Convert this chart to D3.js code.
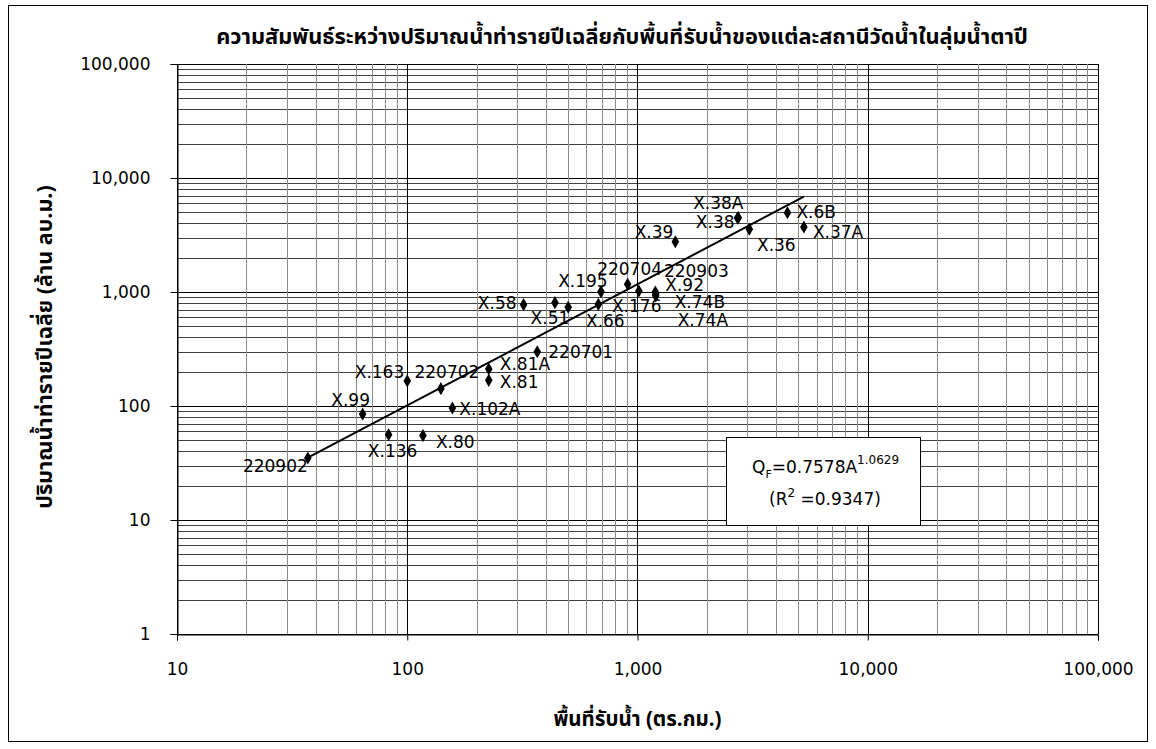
<!DOCTYPE html>
<html>
<head>
<meta charset="utf-8">
<script src="https://cdn.jsdelivr.net/npm/d3@7"></script>
<style>
  body { margin: 0; background: #fff; }
  svg text { font-family: "DejaVu Sans", Tahoma, sans-serif; fill: #000; }
  .thai { font-family: Tahoma, "Noto Sans Thai", "Noto Sans Thai UI", "Loma", "Garuda", "Norasi", "DejaVu Sans", sans-serif; }
</style>
</head>
<body>
<svg id="chart"></svg>
<script>
// station names, catchment area (sq.km) and mean annual runoff (MCM)
const stations = ["220902", "X.99", "X.136", "X.163", "220702", "X.80", "X.102A", "X.81A", "X.81",
  "220701", "X.58", "X.51", "X.195", "X.176", "X.66", "220704", "220903", "X.92", "X.74B", "X.74A",
  "X.39", "X.38A", "X.38", "X.36", "X.6B", "X.37A"];
const areas = [37, 64, 83, 100, 140, 117, 157, 226, 226,
  367, 320, 438, 500, 694, 676, 906, 1014, 1195, 1200, 1200,
  1460, 2740, 2720, 3060, 4480, 5280];
const flows = [35, 85, 56, 166, 142, 55, 96, 211, 168,
  299, 774, 806, 735, 1007, 780, 1170, 1020, 1000, 960, 925,
  2760, 4490, 4450, 3550, 4960, 3720];

const xTicks = [10, 100, 1000, 10000, 100000];
const yTicks = [1, 10, 100, 1000, 10000, 100000];

// power trendline shown in the chart
const trendA = 0.7578, trendB = 1.0629, trendR2 = 0.9347;

const titleText = "ความสัมพันธ์ระหว่างปริมาณน้ำท่ารายปีเฉลี่ยกับพื้นที่รับน้ำของแต่ละสถานีวัดน้ำในลุ่มน้ำตาปี";
const xTitle = "พื้นที่รับน้ำ (ตร.กม.)";
const yTitle = "ปริมาณน้ำท่ารายปีเฉลี่ย (ล้าน ลบ.ม.)";

// label placement: [anchor, dx, dy] in px from the marker
const labelPos = {
  "220902": ["end", 0, 8], "X.99": ["middle", -12, -14], "X.136": ["middle", 4, 16],
  "X.163": ["end", -3, -9], "220702": ["middle", 6, -17], "X.80": ["start", 13, 6],
  "X.102A": ["start", 7, 1], "X.81A": ["start", 11, -5], "X.81": ["start", 11, 2],
  "220701": ["start", 11, 0], "X.58": ["end", -7, -2], "X.51": ["middle", -5, 15],
  "X.195": ["start", -10, -26], "X.176": ["start", 11, 14], "X.66": ["middle", 7, 17],
  "220704": ["middle", 2, -15], "220903": ["start", 25, -20], "X.92": ["start", 10, -7],
  "X.74B": ["start", 19, 8], "X.74A": ["start", 22, 24], "X.39": ["end", -2, -10],
  "X.38A": ["middle", -20, -15], "X.38": ["end", -3, 4], "X.36": ["middle", 27, 16],
  "X.6B": ["start", 9, -1], "X.37A": ["start", 9, 5]
};

const svgWidth = 1156, svgHeight = 749;
const plot = { left: 177, right: 1098, top: 64, bottom: 634 };

const svg = d3.select("#chart")
  .attr("width", svgWidth)
  .attr("height", svgHeight);

// outer chart frame
svg.append("rect")
  .attr("x", 8.5).attr("y", 5.5)
  .attr("width", 1139).attr("height", 736)
  .attr("fill", "#fff")
  .attr("stroke", "#000")
  .attr("stroke-width", 1);

const x = d3.scaleLog().domain([10, 100000]).range([plot.left, plot.right]);
const y = d3.scaleLog().domain([1, 100000]).range([plot.bottom, plot.top]);

// log grid: 1..9 per decade
function gridValues(lo, hi) {
  const vals = [];
  for (let d = lo; d < hi; d *= 10) {
    for (let m = 1; m < 10; m++) vals.push(d * m);
  }
  vals.push(hi);
  return vals;
}
const isMajor = v => Math.abs(Math.log10(v) - Math.round(Math.log10(v))) < 1e-9;

const grid = svg.append("g").attr("class", "grid");
grid.selectAll("line.h")
  .data(gridValues(1, 100000))
  .join("line")
  .attr("class", "h")
  .attr("x1", plot.left).attr("x2", plot.right)
  .attr("y1", d => Math.round(y(d)) + 0.5).attr("y2", d => Math.round(y(d)) + 0.5)
  .attr("stroke", d => isMajor(d) ? "#000" : "#404040")
  .attr("stroke-width", 1);

grid.selectAll("line.v")
  .data(gridValues(10, 100000))
  .join("line")
  .attr("class", "v")
  .attr("y1", plot.top).attr("y2", plot.bottom)
  .attr("x1", d => Math.round(x(d)) + 0.5).attr("x2", d => Math.round(x(d)) + 0.5)
  .attr("stroke", d => isMajor(d) ? "#000" : "#8c8c8c")
  .attr("stroke-width", 1);

// axes
const fmt = d3.format(",");
svg.append("g")
  .attr("transform", `translate(${plot.left + 0.5},0)`)
  .call(d3.axisLeft(y).tickValues(yTicks).tickFormat(fmt).tickSize(7).tickPadding(20))
  .call(g => g.select(".domain").attr("stroke", "#000"))
  .call(g => g.selectAll("text").attr("font-size", 17).attr("font-family", "DejaVu Sans, sans-serif"));

svg.append("g")
  .attr("transform", `translate(0,${plot.bottom + 0.5})`)
  .call(d3.axisBottom(x).tickValues(xTicks).tickFormat(fmt).tickSize(6).tickPadding(22))
  .call(g => g.select(".domain").attr("stroke", "#000"))
  .call(g => g.selectAll("text").attr("font-size", 17).attr("font-family", "DejaVu Sans, sans-serif"));

// trendline across the data range
const xMin = d3.min(areas), xMax = d3.max(areas);
const trend = [xMin, xMax].map(a => ({ a: a, q: trendA * Math.pow(a, trendB) }));
svg.append("path")
  .datum(trend)
  .attr("fill", "none")
  .attr("stroke", "#000")
  .attr("stroke-width", 2)
  .attr("d", d3.line().x(d => x(d.a)).y(d => y(d.q)));

// points
const pts = stations.map((s, i) => ({ name: s, a: areas[i], q: flows[i] }));
svg.append("g")
  .selectAll("path")
  .data(pts)
  .join("path")
  .attr("transform", d => `translate(${x(d.a)},${y(d.q)})`)
  .attr("d", d3.symbol().type(d3.symbolDiamond).size(50))
  .attr("fill", "#000");

svg.append("g")
  .selectAll("text")
  .data(pts)
  .join("text")
  .attr("x", d => x(d.a) + labelPos[d.name][1])
  .attr("y", d => y(d.q) + labelPos[d.name][2])
  .attr("dy", "0.36em")
  .attr("text-anchor", d => labelPos[d.name][0])
  .attr("font-size", 17)
  .text(d => d.name);

// equation box
const box = svg.append("g").attr("transform", "translate(726,437)");
box.append("rect")
  .attr("x", 0.5).attr("y", 0.5)
  .attr("width", 194).attr("height", 88)
  .attr("fill", "#fff")
  .attr("stroke", "#000");
const eq = box.append("text")
  .attr("x", 26).attr("y", 36)
  .attr("font-size", 17);
eq.append("tspan").text("Q");
eq.append("tspan").attr("font-size", 11).attr("dy", 5).text("F");
eq.append("tspan").attr("dy", -5).text("=" + trendA + "A");
eq.append("tspan").attr("font-size", 12).attr("dy", -9).text(trendB);
const r2 = box.append("text")
  .attr("x", 43).attr("y", 68)
  .attr("font-size", 17);
r2.append("tspan").text("(R");
r2.append("tspan").attr("font-size", 12).attr("dy", -8).text("2");
r2.append("tspan").attr("dy", 8).text(" =" + trendR2 + ")");

// titles
svg.append("text")
  .attr("class", "thai")
  .attr("x", 622).attr("y", 44)
  .attr("text-anchor", "middle")
  .attr("font-size", 21.8)
  .attr("font-weight", "bold")
  .text(titleText);

svg.append("text")
  .attr("class", "thai")
  .attr("x", (plot.left + plot.right) / 2).attr("y", 726)
  .attr("text-anchor", "middle")
  .attr("font-size", 20.5)
  .attr("font-weight", "bold")
  .text(xTitle);

svg.append("text")
  .attr("class", "thai")
  .attr("transform", `translate(52,${(plot.top + plot.bottom) / 2 - 2}) rotate(-90)`)
  .attr("text-anchor", "middle")
  .attr("font-size", 21.5)
  .attr("font-weight", "bold")
  .text(yTitle);
</script>
</body>
</html>
